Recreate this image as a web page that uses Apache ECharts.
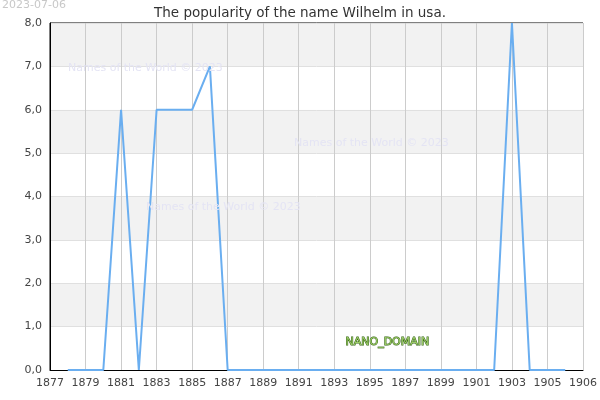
<!DOCTYPE html>
<html>
<head>
<meta charset="utf-8">
<script src="https://cdn.jsdelivr.net/npm/echarts@6/dist/echarts.min.js"></script>
<style>
  html, body { margin: 0; padding: 0; background: #fff; }
  #chart { width: 600px; height: 400px; }
</style>
</head>
<body>
<div id="chart"></div>
<script>
// data
var years = [1878, 1879, 1880, 1881, 1882, 1883, 1884, 1885, 1886, 1887, 1888, 1889, 1890, 1891, 1892,
             1893, 1894, 1895, 1896, 1897, 1898, 1899, 1900, 1901, 1902, 1903, 1904, 1905, 1906];
var counts = [0, 0, 0, 6, 0, 6, 6, 6, 7, 0, 0, 0, 0, 0, 0,
              0, 0, 0, 0, 0, 0, 0, 0, 0, 0, 8, 0, 0, 0];
var xTickLabels = ['1877', '1879', '1881', '1883', '1885', '1887', '1889', '1891', '1893',
                   '1895', '1897', '1899', '1901', '1903', '1905', '1906'];
var xMin = 1877, xMax = 1907;

var font = 'DejaVu Sans';
var myChart = echarts.init(document.getElementById('chart'));

var watermark = function (left, top) {
    return {
        type: 'text', left: left, top: top, z: 100,
        style: { text: 'Names of the World © 2023', fill: '#e4e4f4', font: '11px "DejaVu Sans"' }
    };
};

var option = {
    animation: false,
    textStyle: { fontFamily: font },
    title: {
        text: 'The popularity of the name Wilhelm in usa.',
        left: 'center', top: 1,
        textStyle: { fontSize: 13.5, fontWeight: 'normal', color: '#333', fontFamily: font }
    },
    grid: {
        left: 50, right: 15, top: 23, bottom: 30,
        show: true, borderColor: '#000', borderWidth: 1, backgroundColor: 'transparent'
    },
    xAxis: {
        type: 'value', min: xMin, max: xMax, interval: 2,
        axisLine: { show: true, lineStyle: { color: '#000' } },
        axisTick: { show: false },
        axisLabel: {
            color: '#444', fontSize: 11, margin: 8,
            formatter: function (v) { return xTickLabels[Math.round((v - xMin) / 2)]; }
        },
        splitLine: { show: true, lineStyle: { color: '#ccc' } }
    },
    yAxis: {
        type: 'value', min: 0, max: 8, interval: 1,
        axisLine: { show: true, lineStyle: { color: '#000' } },
        axisTick: { show: false },
        axisLabel: {
            color: '#444', fontSize: 11, margin: 8,
            formatter: function (v) { return v.toFixed(1).replace('.', ','); }
        },
        splitLine: { show: true, lineStyle: { color: '#e0e0e0' } },
        splitArea: { show: true, areaStyle: { color: ['#ffffff', '#f2f2f2'] } }
    },
    series: [{
        type: 'line',
        data: years.map(function (y, i) { return [y, counts[i]]; }),
        showSymbol: false,
        lineStyle: { color: '#6aaef0', width: 2 }
    }],
    graphic: [
        { type: 'text', left: 2, top: 0, style: { text: '2023-07-06', fill: '#c8c8c8', font: '11px "DejaVu Sans"' } },
        watermark(68, 63),
        watermark(294, 138),
        watermark(146, 202),
        {
            type: 'text', left: 345, top: 336, z: 100,
            style: { text: 'NANO_DOMAIN', fill: '#9ccc66', stroke: '#2f5e12', lineWidth: 1, font: '11px "DejaVu Sans"' }
        }
    ]
};

myChart.setOption(option);
</script>
</body>
</html>
